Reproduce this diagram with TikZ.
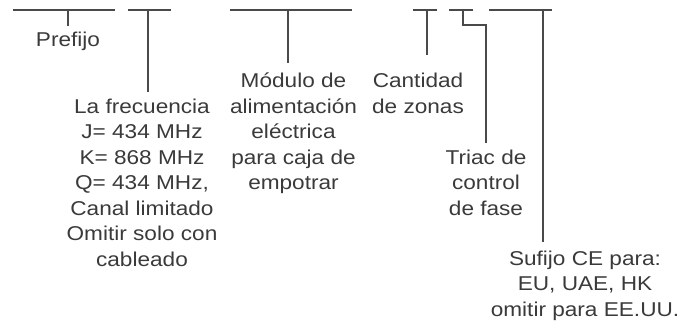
\documentclass[tikz,border=0pt]{standalone}
\usepackage{fontspec}
\setmainfont{Liberation Sans}[FakeStretch=1.13]
\definecolor{ink}{HTML}{3A3A3A}
\definecolor{rule}{HTML}{4A4A4A}
\begin{document}
\begin{tikzpicture}[x=1pt,y=-1pt,
  lbl/.style={align=center,inner sep=0pt,anchor=base,text=ink,
    font=\fontsize{20}{25.5}\selectfont},
  wire/.style={draw=rule,line width=1.2pt}]
\useasboundingbox (0,0) rectangle (684,322);
% bars
\coordinate (b1l) at (13,10);  \coordinate (b1r) at (115,10);
\coordinate (b2l) at (128,10); \coordinate (b2r) at (171,10);
\coordinate (b3l) at (230,10); \coordinate (b3r) at (352,10);
\coordinate (b4l) at (413,10); \coordinate (b4r) at (437,10);
\coordinate (b5l) at (449,10); \coordinate (b5r) at (473,10);
\coordinate (b6l) at (489,10); \coordinate (b6r) at (552,10);
% stem tops
\coordinate (s1) at (68,10);
\coordinate (s2) at (148,10);
\coordinate (s3) at (288,10);
\coordinate (s4) at (427,10);
\coordinate (s5) at (463,10);
\coordinate (s6) at (543,10);
% stem ends
\coordinate (e1) at (68,26);
\coordinate (e2) at (148,92);
\coordinate (e3) at (288,63);
\coordinate (e4) at (427,55);
\coordinate (k5a) at (463,25);
\coordinate (k5b) at (486,25);
\coordinate (e5) at (486,143);
\coordinate (e6) at (543,242);
% labels (anchor = baseline of last line)
\node[lbl] (pre) at (68,46.5) {Prefijo};
\node[lbl] (fre) at (142,266) {La frecuencia\\J= 434 MHz\\K= 868 MHz\\Q= 434 MHz,\\Canal limitado\\Omitir solo con\\cableado};
\node[lbl] (mod) at (293.5,189.5) {Módulo de\\alimentación\\eléctrica\\para caja de\\empotrar};
\node[lbl] (can) at (418,113) {Cantidad\\de zonas};
\node[lbl] (tri) at (486,215) {Triac de\\control\\de fase};
\node[lbl] (suf) at (585,316) {Sufijo CE para:\\EU, UAE, HK\\omitir para EE.UU.};
% connectors
\draw[wire] (b1l) -- (b1r);
\draw[wire] (b2l) -- (b2r);
\draw[wire] (b3l) -- (b3r);
\draw[wire] (b4l) -- (b4r);
\draw[wire] (b5l) -- (b5r);
\draw[wire] (b6l) -- (b6r);
\draw[wire] (s1) -- (e1);
\draw[wire] (s2) -- (e2);
\draw[wire] (s3) -- (e3);
\draw[wire] (s4) -- (e4);
\draw[wire] (s5) -- (k5a) -- (k5b) -- (e5);
\draw[wire] (s6) -- (e6);
\end{tikzpicture}
\end{document}
